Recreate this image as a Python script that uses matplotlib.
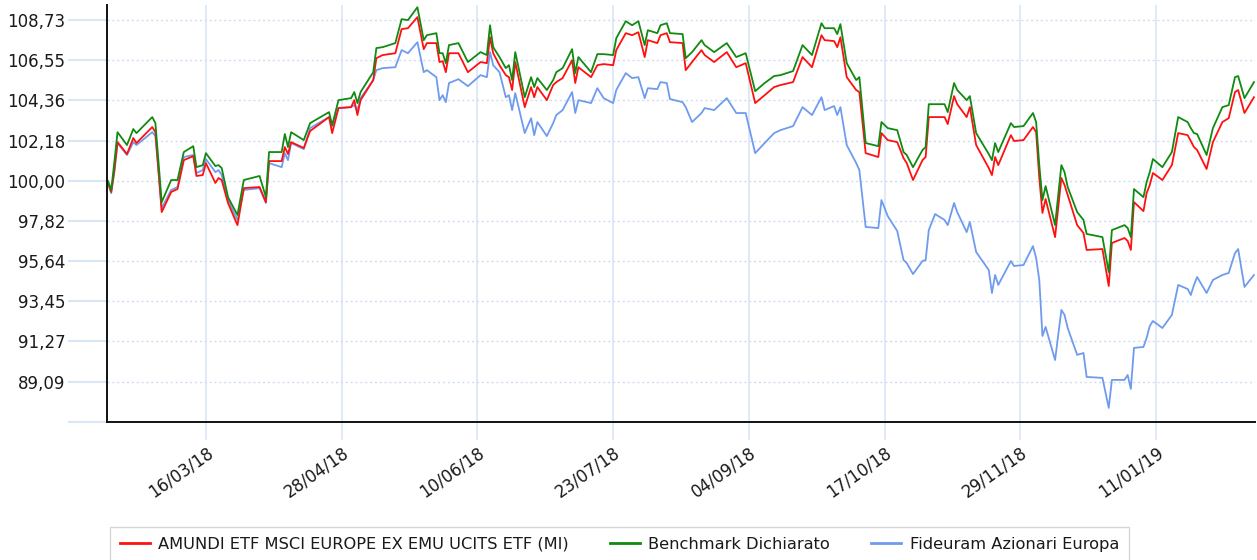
import numpy as np
import pandas as pd
import matplotlib
matplotlib.use("Agg")
import matplotlib.pyplot as plt
import matplotlib.dates as mdates
from matplotlib.ticker import FixedLocator, FuncFormatter

# --- data (base 100) ---
dates = [
    "2018-02-13", "2018-02-14", "2018-02-15", "2018-02-16", "2018-02-19", "2018-02-21", "2018-02-22", "2018-02-27", "2018-02-28", "2018-03-02",
    "2018-03-05", "2018-03-07", "2018-03-09", "2018-03-12", "2018-03-13", "2018-03-15", "2018-03-16", "2018-03-19", "2018-03-20", "2018-03-21",
    "2018-03-23", "2018-03-26", "2018-03-28", "2018-04-02", "2018-04-04", "2018-04-05", "2018-04-09", "2018-04-10", "2018-04-11", "2018-04-12",
    "2018-04-16", "2018-04-18", "2018-04-24", "2018-04-25", "2018-04-27", "2018-05-01", "2018-05-02", "2018-05-03", "2018-05-04", "2018-05-08",
    "2018-05-09", "2018-05-11", "2018-05-15", "2018-05-17", "2018-05-19", "2018-05-22", "2018-05-24", "2018-05-25", "2018-05-28", "2018-05-29",
    "2018-05-30", "2018-05-31", "2018-06-01", "2018-06-04", "2018-06-07", "2018-06-11", "2018-06-13", "2018-06-14", "2018-06-15", "2018-06-17",
    "2018-06-19", "2018-06-20", "2018-06-21", "2018-06-22", "2018-06-25", "2018-06-27", "2018-06-28", "2018-06-29", "2018-07-02", "2018-07-04",
    "2018-07-05", "2018-07-07", "2018-07-10", "2018-07-11", "2018-07-12", "2018-07-16", "2018-07-18", "2018-07-20", "2018-07-23", "2018-07-24",
    "2018-07-27", "2018-07-29", "2018-07-31", "2018-08-02", "2018-08-03", "2018-08-06", "2018-08-07", "2018-08-09", "2018-08-10", "2018-08-14",
    "2018-08-15", "2018-08-17", "2018-08-20", "2018-08-21", "2018-08-24", "2018-08-28", "2018-08-31", "2018-09-03", "2018-09-06", "2018-09-09",
    "2018-09-12", "2018-09-14", "2018-09-18", "2018-09-21", "2018-09-24", "2018-09-27", "2018-09-28", "2018-10-01", "2018-10-02", "2018-10-03",
    "2018-10-05", "2018-10-08", "2018-10-09", "2018-10-11", "2018-10-15", "2018-10-16", "2018-10-18", "2018-10-21", "2018-10-23", "2018-10-24",
    "2018-10-26", "2018-10-29", "2018-10-30", "2018-10-31", "2018-11-02", "2018-11-05", "2018-11-06", "2018-11-08", "2018-11-09", "2018-11-12",
    "2018-11-13", "2018-11-15", "2018-11-19", "2018-11-20", "2018-11-21", "2018-11-22", "2018-11-26", "2018-11-27", "2018-11-30", "2018-12-03",
    "2018-12-04", "2018-12-05", "2018-12-06", "2018-12-07", "2018-12-10", "2018-12-12", "2018-12-13", "2018-12-14", "2018-12-17", "2018-12-19",
    "2018-12-20", "2018-12-25", "2018-12-27", "2018-12-28", "2019-01-01", "2019-01-02", "2019-01-03", "2019-01-04", "2019-01-07", "2019-01-08",
    "2019-01-09", "2019-01-10", "2019-01-13", "2019-01-16", "2019-01-18", "2019-01-21", "2019-01-22", "2019-01-23", "2019-01-24", "2019-01-27",
    "2019-01-29", "2019-02-01", "2019-02-03", "2019-02-05", "2019-02-06", "2019-02-08", "2019-02-11",
]

amundi = [
    99.88, 99.39, 100.58, 102.10, 101.45, 102.32, 102.05, 102.92, 102.64, 98.30,
    99.39, 99.55, 101.12, 101.34, 100.26, 100.31, 100.96, 99.88, 100.15, 100.04,
    98.79, 97.59, 99.60, 99.66, 98.84, 101.07, 101.07, 101.83, 101.45, 102.10,
    101.78, 102.70, 103.46, 102.59, 103.95, 104.00, 104.38, 103.57, 104.38, 105.47,
    106.66, 106.83, 106.93, 108.24, 108.29, 108.89, 107.15, 107.48, 107.48, 106.45,
    106.50, 105.90, 106.93, 106.93, 105.90, 106.45, 106.39, 107.80, 106.93, 106.28,
    105.74, 105.63, 104.93, 106.45, 104.00, 105.09, 104.54, 105.09, 104.38, 105.20,
    105.36, 105.58, 106.55, 105.31, 106.17, 105.63, 106.28, 106.34, 106.28, 107.10,
    108.02, 107.91, 108.07, 106.72, 107.64, 107.48, 107.91, 108.02, 107.53, 107.48,
    106.01, 106.45, 107.10, 106.83, 106.45, 106.99, 106.17, 106.39, 104.22, 104.65,
    105.09, 105.20, 105.36, 106.72, 106.17, 107.91, 107.64, 107.59, 107.26, 107.80,
    105.63, 104.93, 104.82, 101.50, 101.29, 102.59, 102.21, 102.10, 101.23, 100.96,
    100.04, 101.12, 101.29, 103.46, 103.46, 103.46, 103.08, 104.60, 104.16, 103.46,
    104.00, 101.94, 100.69, 100.31, 101.29, 100.85, 102.48, 102.16, 102.21, 102.92,
    102.64, 100.15, 98.25, 99.01, 96.94, 100.15, 99.77, 99.22, 97.59, 97.16,
    96.24, 96.29, 94.28, 96.62, 96.89, 96.73, 96.24, 98.84, 98.35, 99.33,
    99.77, 100.42, 100.04, 100.85, 102.59, 102.48, 102.16, 101.83, 101.67, 100.64,
    102.10, 103.19, 103.40, 104.82, 104.93, 103.68, 104.54,
]

benchmark = [
    99.98, 99.50, 101.02, 102.64, 101.94, 102.81, 102.59, 103.46, 103.13, 98.84,
    100.04, 100.04, 101.56, 101.88, 100.74, 100.85, 101.50, 100.80, 100.85, 100.69,
    99.11, 98.14, 100.04, 100.26, 99.11, 101.56, 101.56, 102.54, 101.83, 102.64,
    102.21, 103.13, 103.73, 103.02, 104.38, 104.49, 104.82, 104.22, 104.82, 105.90,
    107.21, 107.26, 107.48, 108.78, 108.73, 109.43, 107.64, 107.91, 108.02, 106.93,
    106.93, 106.39, 107.37, 107.48, 106.45, 106.99, 106.83, 108.45, 107.26, 106.72,
    106.12, 106.28, 105.47, 106.99, 104.54, 105.63, 105.09, 105.58, 104.93, 105.47,
    105.90, 106.12, 107.15, 105.85, 106.72, 105.90, 106.88, 106.88, 106.83, 107.75,
    108.67, 108.45, 108.67, 107.37, 108.18, 108.02, 108.45, 108.56, 108.02, 107.97,
    106.66, 106.99, 107.64, 107.37, 106.99, 107.48, 106.72, 106.93, 104.87, 105.31,
    105.69, 105.74, 105.96, 107.37, 106.83, 108.56, 108.29, 108.29, 107.97, 108.51,
    106.39, 105.47, 105.63, 102.05, 101.88, 103.19, 102.86, 102.75, 101.56, 101.40,
    100.74, 101.67, 101.83, 104.16, 104.16, 104.16, 103.73, 105.31, 104.93, 104.38,
    104.60, 102.59, 101.45, 101.12, 102.05, 101.56, 103.13, 102.92, 102.97, 103.68,
    103.19, 100.85, 98.95, 99.71, 97.59, 100.85, 100.47, 99.66, 98.30, 97.87,
    97.11, 96.94, 95.04, 97.32, 97.59, 97.43, 96.94, 99.55, 99.11, 99.93,
    100.47, 101.18, 100.74, 101.56, 103.46, 103.19, 102.86, 102.59, 102.54, 101.40,
    102.86, 104.00, 104.11, 105.63, 105.69, 104.49, 105.36,
]

fideuram = [
    99.82, 99.33, 100.47, 102.05, 101.40, 102.10, 101.94, 102.64, 102.43, 98.52,
    99.50, 99.66, 101.29, 101.40, 100.42, 100.58, 101.18, 100.47, 100.58, 100.31,
    98.95, 97.87, 99.50, 99.60, 98.79, 100.96, 100.74, 101.50, 101.12, 102.05,
    101.72, 102.86, 103.46, 102.97, 103.95, 104.00, 104.11, 103.84, 104.49, 105.47,
    106.01, 106.12, 106.17, 107.10, 106.93, 107.53, 105.90, 106.01, 105.63, 104.38,
    104.65, 104.27, 105.31, 105.52, 105.14, 105.74, 105.63, 106.99, 106.28, 105.90,
    104.54, 104.65, 103.84, 104.76, 102.59, 103.40, 102.48, 103.19, 102.43, 103.13,
    103.57, 103.84, 104.82, 103.68, 104.38, 104.22, 105.03, 104.49, 104.22, 104.93,
    105.85, 105.58, 105.63, 104.49, 105.03, 104.98, 105.36, 105.31, 104.44, 104.27,
    104.00, 103.19, 103.68, 103.95, 103.84, 104.49, 103.68, 103.68, 101.50, 102.05,
    102.59, 102.75, 102.97, 104.00, 103.57, 104.54, 103.84, 104.06, 103.57, 104.00,
    101.94, 100.96, 100.58, 97.49, 97.43, 98.95, 98.08, 97.27, 95.69, 95.53,
    94.93, 95.64, 95.69, 97.32, 98.19, 97.87, 97.59, 98.79, 98.30, 97.21,
    97.76, 96.13, 95.15, 93.90, 94.88, 94.34, 95.64, 95.37, 95.42, 96.45,
    95.80, 94.61, 91.57, 92.06, 90.26, 92.98, 92.71, 92.00, 90.54, 90.64,
    89.34, 89.29, 87.66, 89.18, 89.18, 89.45, 88.69, 90.92, 90.97, 91.46,
    92.11, 92.38, 92.00, 92.71, 94.34, 94.12, 93.79, 94.34, 94.77, 93.90,
    94.61, 94.88, 94.99, 96.07, 96.29, 94.23, 94.88,
]

labels = ["AMUNDI ETF MSCI EUROPE EX EMU UCITS ETF (MI)", "Benchmark Dichiarato", "Fideuram Azionari Europa"]
tick_dates = ["2018-03-16", "2018-04-28", "2018-06-10", "2018-07-23", "2018-09-04", "2018-10-17", "2018-11-29", "2019-01-11"]
y_ticks = [100 + k * 24 / 11 for k in range(-6, 5)]

df = pd.DataFrame({"date": pd.to_datetime(dates), "amundi": amundi,
                   "benchmark": benchmark, "fideuram": fideuram})

grid_col = "#d9e6f7"
txt_col = "#1a1a1a"
plt.rcParams["font.family"] = "DejaVu Sans"

fig = plt.figure(figsize=(12.57, 5.6), dpi=100)
ax = fig.add_axes([107 / 1257, (560 - 421.7) / 560, 1148 / 1257, (421.7 - 5) / 560])

ax.plot(df["date"], df["fideuram"], color="#6f9bef", lw=1.3, zorder=3)
ax.plot(df["date"], df["amundi"], color="#ff1010", lw=1.3, zorder=4)
ax.plot(df["date"], df["benchmark"], color="#108a10", lw=1.3, zorder=5)

# axes limits
ax.set_xlim(df["date"].iloc[0] - pd.Timedelta(hours=8), df["date"].iloc[-1] + pd.Timedelta(hours=8))
ax.set_ylim(y_ticks[0], 109.55)

# spines
for s in ["top", "right"]:
    ax.spines[s].set_visible(False)
for s in ["left", "bottom"]:
    ax.spines[s].set_color("#111111")
    ax.spines[s].set_linewidth(1.4)
    ax.spines[s].set_zorder(6)

# y axis: comma decimal labels, long light-blue ticks, dotted grid
ax.yaxis.set_major_locator(FixedLocator(y_ticks))
ax.yaxis.set_major_formatter(FuncFormatter(
    lambda v, p: "" if abs(v - y_ticks[0]) < 1e-6 else f"{v:.2f}".replace(".", ",")))
ax.tick_params(axis="y", direction="out", length=28, width=1.5, color=grid_col,
               pad=2, labelsize=12, labelcolor=txt_col)
ax.grid(axis="y", color="#cfdcf2", linestyle=(0, (1.5, 2)), linewidth=1.0)

# x axis: date ticks every 43 days, solid light-blue grid
ax.xaxis.set_major_locator(FixedLocator(mdates.date2num(pd.to_datetime(tick_dates))))
ax.xaxis.set_major_formatter(mdates.DateFormatter("%d/%m/%y"))
ax.tick_params(axis="x", direction="out", length=13, width=1.2, color=grid_col,
               pad=3, labelsize=12, labelcolor=txt_col)
ax.grid(axis="x", color=grid_col, linestyle="-", linewidth=1.2)
for lab in ax.get_xticklabels():
    lab.set_rotation(35)
    lab.set_ha("right")
    lab.set_va("top")
    lab.set_rotation_mode("anchor")
ax.set_axisbelow(True)

# legend below the plot
handles = ax.get_lines()
leg = fig.legend([handles[1], handles[2], handles[0]], labels, loc="upper left",
                 bbox_to_anchor=(110 / 1257, 1 - 527 / 560), borderaxespad=0,
                 ncol=3, fontsize=11.7, frameon=True, fancybox=False,
                 edgecolor="#cccccc", handlelength=1.85, handletextpad=0.5,
                 columnspacing=2.55, borderpad=0.6)
leg.get_frame().set_linewidth(1.0)
for h in leg.get_lines():
    h.set_linewidth(2.0)
for t in leg.get_texts():
    t.set_color(txt_col)

fig.savefig("out.png", dpi=100)
